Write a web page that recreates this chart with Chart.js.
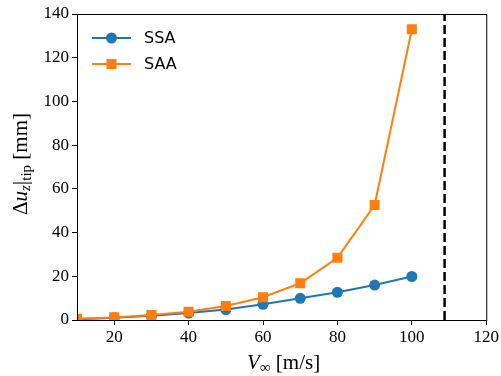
<!DOCTYPE html>
<html>
<head>
<meta charset="utf-8">
<script src="https://cdn.jsdelivr.net/npm/chart.js@4/dist/chart.umd.min.js"></script>
<style>
  html, body { margin: 0; padding: 0; background: #fff; }
  #wrap { width: 501px; height: 376px; }
</style>
</head>
<body>
<div id="wrap"><canvas id="chart" width="501" height="376"></canvas></div>
<script>
const speeds = [10, 20, 30, 40, 50, 60, 70, 80, 90, 100];
const ssaTip = [0.3, 1.0, 2.0, 3.2, 4.8, 7.2, 9.9, 12.7, 16.0, 19.9];
const saaTip = [0.6, 1.2, 2.3, 3.8, 6.4, 10.4, 16.8, 28.5, 52.6, 133.0];
const flutterSpeed = 108.8;
const xTicks = [20, 40, 60, 80, 100, 120];
const yTicks = [0, 20, 40, 60, 80, 100, 120, 140];

const BLUE = "#1f77b4";
const ORANGE = "#ff7f0e";
const SERIF = "'Liberation Serif', 'DejaVu Serif', serif";
const SANS = "'DejaVu Sans', sans-serif";

const toPoints = (xs, ys) => xs.map((x, i) => ({ x, y: ys[i] }));

// frame on all four sides, like matplotlib
const framePlugin = {
  id: "frame",
  afterDatasetsDraw(chart) {
    const { ctx, chartArea: a } = chart;
    ctx.save();
    ctx.strokeStyle = "#000";
    ctx.lineWidth = 1;
    ctx.strokeRect(a.left + 0.5, a.top + 0.5, a.right - a.left, a.bottom - a.top);
    ctx.restore();
  }
};

// axis titles with italic / subscript pieces
function drawRuns(ctx, runs, x, y) {
  let total = 0;
  runs.forEach((r) => { ctx.font = r.font; total += ctx.measureText(r.text).width; });
  let cx = x - total / 2;
  runs.forEach((r) => {
    ctx.font = r.font;
    ctx.fillText(r.text, cx, y + (r.dy || 0));
    cx += ctx.measureText(r.text).width;
  });
}

const titlesPlugin = {
  id: "titles",
  afterDraw(chart) {
    const { ctx, chartArea: a } = chart;
    ctx.save();
    ctx.fillStyle = "#000";
    ctx.textBaseline = "alphabetic";
    ctx.textAlign = "left";
    drawRuns(ctx, [
      { text: "V", font: `italic 21px ${SERIF}` },
      { text: "∞", font: `15px ${SERIF}`, dy: 3 },
      { text: " [m/s]", font: `21px ${SERIF}` }
    ], (a.left + a.right) / 2 + 2, 369);

    ctx.translate(27, (a.top + a.bottom) / 2 - 3);
    ctx.rotate(-Math.PI / 2);
    drawRuns(ctx, [
      { text: "Δ", font: `21px ${SERIF}` },
      { text: "u", font: `italic 21px ${SERIF}` },
      { text: "z", font: `italic 15px ${SERIF}`, dy: 3 },
      { text: "|", font: `22px ${SERIF}` },
      { text: "tip", font: `15px ${SERIF}`, dy: 4 },
      { text: " [mm]", font: `21px ${SERIF}` }
    ], 0, 0);
    ctx.restore();
  }
};

// matplotlib-style legend: line with marker
const legendPlugin = {
  id: "mplLegend",
  afterDraw(chart) {
    const { ctx } = chart;
    const items = [
      { label: "SSA", color: BLUE, style: "circle", y: 38 },
      { label: "SAA", color: ORANGE, style: "rect", y: 64 }
    ];
    ctx.save();
    items.forEach((it) => {
      ctx.strokeStyle = it.color;
      ctx.lineWidth = 2;
      ctx.beginPath();
      ctx.moveTo(92, it.y);
      ctx.lineTo(131, it.y);
      ctx.stroke();
      ctx.fillStyle = it.color;
      if (it.style === "circle") {
        ctx.beginPath();
        ctx.arc(111.5, it.y, 5.5, 0, Math.PI * 2);
        ctx.fill();
      } else {
        ctx.fillRect(106.5, it.y - 5, 10, 10);
      }
      ctx.fillStyle = "#000";
      ctx.font = `16px ${SANS}`;
      ctx.textBaseline = "middle";
      ctx.fillText(it.label, 144, it.y + 1);
    });
    ctx.restore();
  }
};

new Chart(document.getElementById("chart"), {
  type: "line",
  data: {
    datasets: [
      {
        label: "SSA",
        data: toPoints(speeds, ssaTip),
        borderColor: BLUE,
        backgroundColor: BLUE,
        borderWidth: 2,
        pointStyle: "circle",
        pointRadius: 5.5,
        pointBorderWidth: 0,
        order: 1,
        clip: 0
      },
      {
        label: "SAA",
        data: toPoints(speeds, saaTip),
        borderColor: ORANGE,
        backgroundColor: ORANGE,
        borderWidth: 2,
        pointStyle: "rect",
        pointRadius: 7.1,
        pointBorderWidth: 0,
        order: 0,
        clip: 0
      },
      {
        label: "limit",
        data: [{ x: flutterSpeed, y: 0 }, { x: flutterSpeed, y: 140 }],
        borderColor: "#000",
        borderWidth: 2.5,
        borderDash: [9, 4],
        pointRadius: 0,
        order: 2
      }
    ]
  },
  options: {
    responsive: false,
    animation: false,
    layout: { padding: { left: 0, top: 14, right: 14, bottom: 0 } },
    plugins: {
      legend: { display: false },
      tooltip: { enabled: false }
    },
    scales: {
      x: {
        type: "linear",
        min: 10,
        max: 120,
        afterFit: (s) => { s.height = 56; },
        afterBuildTicks: (s) => { s.ticks = xTicks.map((v) => ({ value: v })); },
        grid: { drawOnChartArea: false, color: "#000", tickLength: 5 },
        border: { color: "#000", width: 1 },
        ticks: { color: "#000", padding: 2, maxRotation: 0, font: { family: SERIF, size: 17 } }
      },
      y: {
        min: 0,
        max: 140,
        afterFit: (s) => { s.width = 77; },
        afterBuildTicks: (s) => { s.ticks = yTicks.map((v) => ({ value: v })); },
        grid: { drawOnChartArea: false, color: "#000", tickLength: 5 },
        border: { color: "#000", width: 1 },
        ticks: { color: "#000", padding: 3, font: { family: SERIF, size: 17 } }
      }
    }
  },
  plugins: [framePlugin, titlesPlugin, legendPlugin]
});
</script>
</body>
</html>
